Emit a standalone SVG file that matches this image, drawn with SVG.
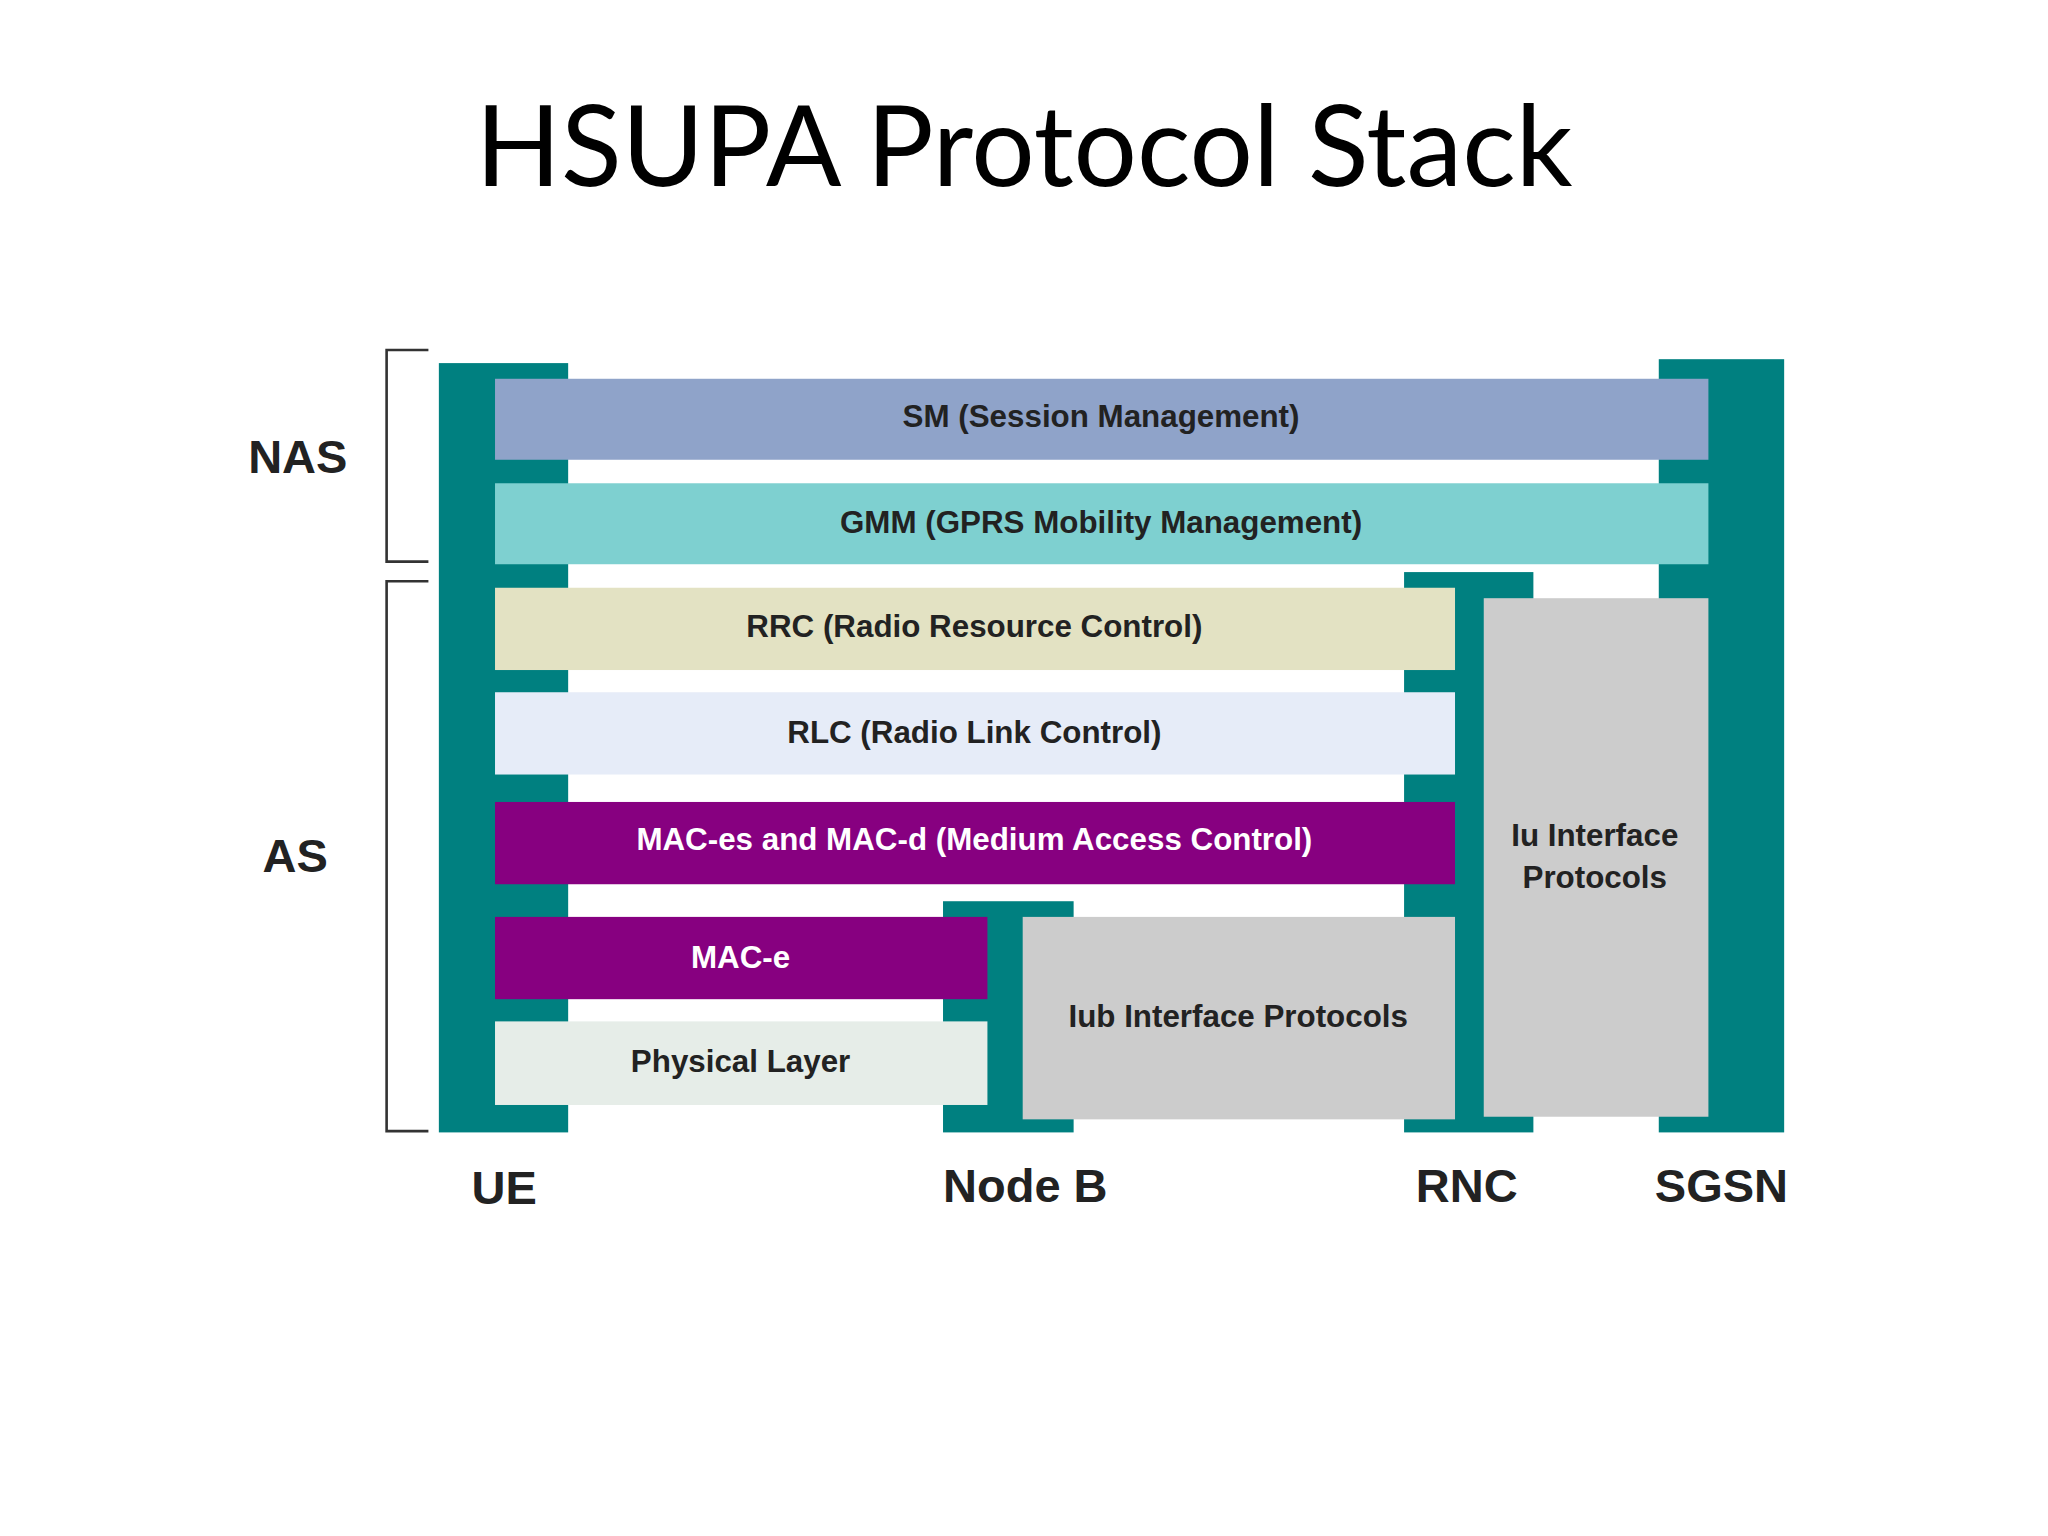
<svg xmlns="http://www.w3.org/2000/svg" width="2048" height="1536" viewBox="0 0 2048 1536">
<style>
.t{fill:#008080}
.lb{font-family:"Liberation Sans",Arial,sans-serif;font-weight:bold;font-size:24px;fill:#222;text-anchor:middle}
.lw{fill:#fff}
.st{font-family:"Liberation Sans",Arial,sans-serif;font-weight:bold;font-size:36px;fill:#222;text-anchor:middle}
.br{fill:none;stroke:#333;stroke-width:2}
</style>
<rect width="2048" height="1536" fill="#fff"/>
<text x="1024" y="186" font-family="Lato,'Open Sans',sans-serif" font-size="112" fill="#000" text-anchor="middle">HSUPA Protocol Stack</text>
<g transform="scale(1.30612)">
<g id="brackets">
<path class="br" d="M328,268 H296 V430 H328"/>
<path class="br" d="M328,445 H296 V866 H328"/>
<text class="st" x="228" y="362">NAS</text>
<text class="st" x="226" y="668">AS</text>
</g>
<g id="UE"><rect class="t" x="336" y="278" width="99" height="589"/><text class="st" x="386" y="922">UE</text></g>
<g id="SGSN"><rect class="t" x="1270" y="275" width="96" height="592"/><text class="st" x="1318" y="920">SGSN</text></g>
<g id="RNC"><rect class="t" x="1075" y="438" width="99" height="429"/><text class="st" x="1123" y="920">RNC</text></g>
<g id="NodeB"><rect class="t" x="722" y="690" width="100" height="177"/><text class="st" x="785" y="920">Node B</text></g>
<g id="SM"><rect x="379" y="290" width="929" height="62" fill="#8FA3C9"/><text class="lb" x="843" y="327">SM (Session Management)</text></g>
<g id="GMM"><rect x="379" y="370" width="929" height="62" fill="#7ED0D0"/><text class="lb" x="843" y="408">GMM (GPRS Mobility Management)</text></g>
<g id="RRC"><rect x="379" y="450" width="735" height="63" fill="#E3E2C3"/><text class="lb" x="746" y="488">RRC (Radio Resource Control)</text></g>
<g id="RLC"><rect x="379" y="530" width="735" height="63" fill="#E6ECF8"/><text class="lb" x="746" y="569">RLC (Radio Link Control)</text></g>
<g id="MACes"><rect x="379" y="614" width="735" height="63" fill="#870080"/><text class="lb lw" x="746" y="651">MAC-es and MAC-d (Medium Access Control)</text></g>
<g id="MACe"><rect x="379" y="702" width="377" height="63" fill="#870080"/><text class="lb lw" x="567" y="741">MAC-e</text></g>
<g id="PHY"><rect x="379" y="782" width="377" height="64" fill="#E6EDE8"/><text class="lb" x="567" y="821">Physical Layer</text></g>
<g id="Iub"><rect x="783" y="702" width="331" height="155" fill="#CCCCCC"/><text class="lb" x="948" y="786">Iub Interface Protocols</text></g>
<g id="Iu"><rect x="1136" y="458" width="172" height="397" fill="#CCCCCC"/><text class="lb" x="1221" y="648">Iu Interface</text><text class="lb" x="1221" y="680">Protocols</text></g>
</g>
</svg>
